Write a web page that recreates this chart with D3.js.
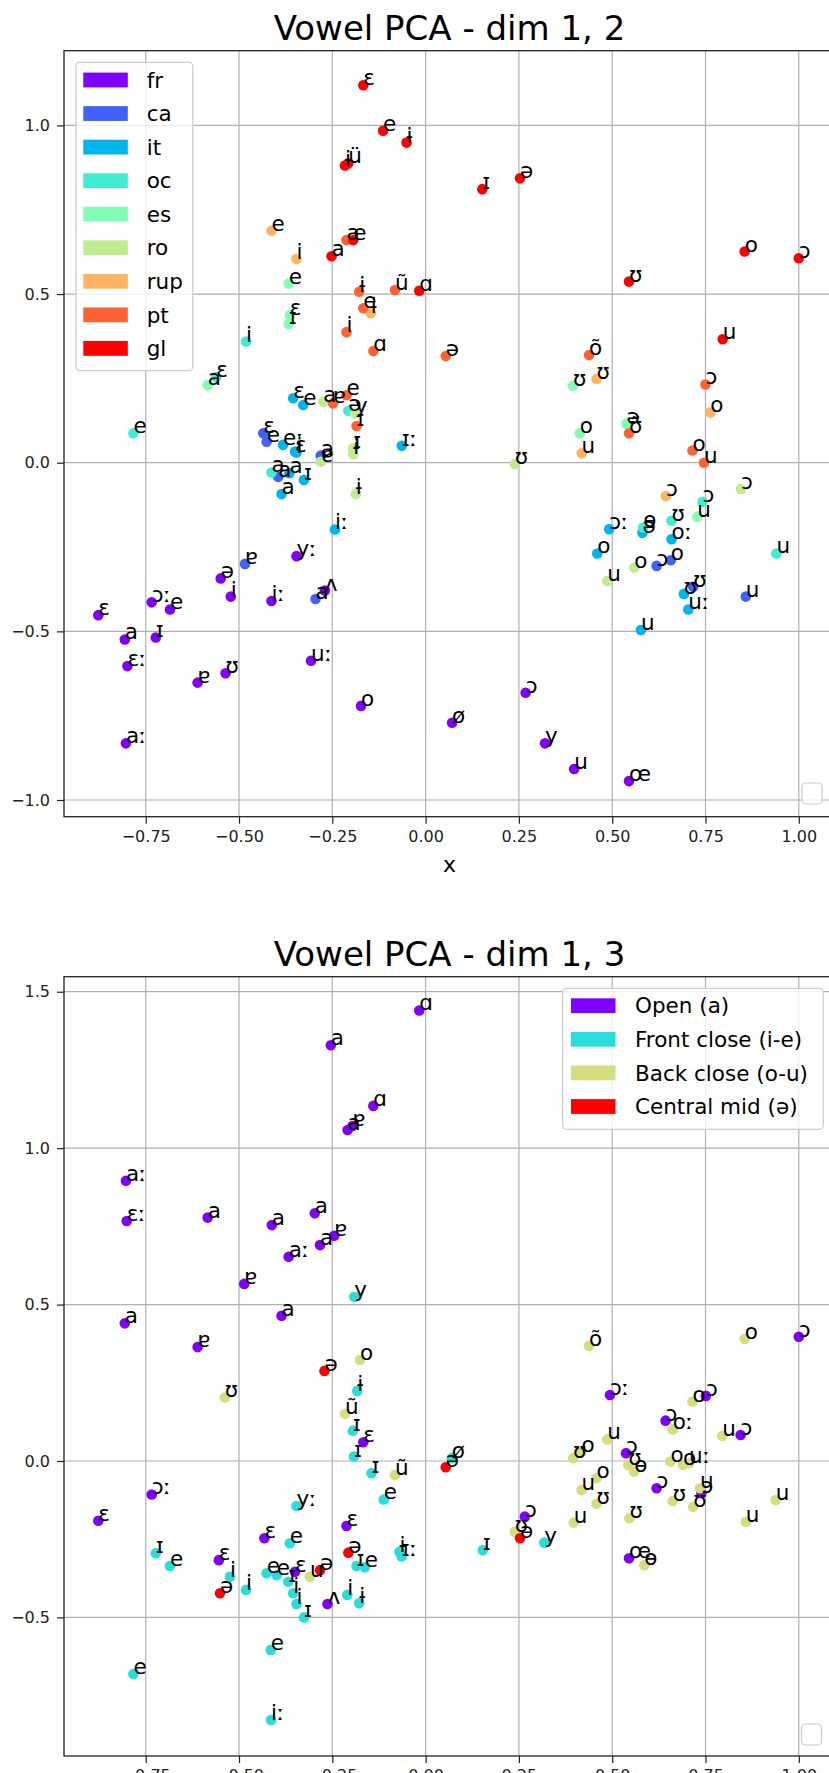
<!DOCTYPE html>
<html><head><meta charset="utf-8">
<script src="https://cdn.jsdelivr.net/npm/d3@7"></script>
<style>body{margin:0;background:#fff} text{font-family:"DejaVu Sans",sans-serif}</style>
</head><body><svg id="c" width="829" height="1773"></svg>
<script>
// ---------- data ----------
const languages = ["fr","ca","it","oc","es","ro","rup","pt","gl"];
const categories = ["Open (a)","Front close (i-e)","Back close (o-u)","Central mid (ə)"];
const xTicks = [-0.75,-0.5,-0.25,0,0.25,0.5,0.75,1.0];
const yTicksTop = [-1.0,-0.5,0,0.5,1.0];
const yTicksBottom = [-0.5,0,0.5,1.0,1.5];

// dim1, dim2 per language: [label, dim1, dim2]
const fr = [["ɛ",-0.877,-0.452],["a",-0.806,-0.524],["ɛː",-0.799,-0.603],["aː",-0.803,-0.832],["ɔː",-0.734,-0.414],["e",-0.685,-0.435],["ɪ",-0.723,-0.518],["ɐ",-0.611,-0.652],["ʊ",-0.536,-0.624],["ə",-0.549,-0.343],["i",-0.522,-0.397],["iː",-0.413,-0.410],["yː",-0.346,-0.277],["ʌ",-0.270,-0.379],["uː",-0.307,-0.587],["o",-0.173,-0.721],["ø",0.071,-0.771],["ɔ",0.268,-0.682],["y",0.320,-0.832],["u",0.398,-0.908],["œ",0.545,-0.944]];
const ca = [["ɐ",-0.484,-0.300],["a",-0.295,-0.404],["ɔ",0.619,-0.306],["o",0.657,-0.289],["u",0.858,-0.397],["ʊ",0.717,-0.368],["ɛ",-0.435,0.087],["e",-0.426,0.062],["a",-0.395,-0.042],["a",-0.281,0.021]];
const it = [["ɛ",-0.355,0.191],["e",-0.328,0.171],["ɪː",-0.064,0.050],["iː",-0.243,-0.198],["ɔː",0.492,-0.197],["oː",0.659,-0.227],["ə",0.581,-0.208],["o",0.460,-0.269],["ʊ",0.692,-0.389],["uː",0.704,-0.435],["u",0.577,-0.496],["eː",-0.382,0.053],["ɛ",-0.350,0.033],["a",-0.386,-0.093],["ɪ",-0.326,-0.051],["a",-0.365,-0.031],["i",-0.346,0.030]];
const oc = [["i",-0.481,0.359],["ɛ",-0.561,0.254],["e",-0.783,0.087],["a",-0.413,-0.029],["ɔ",0.742,-0.116],["ʊ",0.659,-0.172],["ɵ",0.583,-0.192],["u",0.940,-0.269],["ə",-0.207,0.154]];
const es = [["e",-0.367,0.531],["ɛ",-0.364,0.438],["ɪ",-0.367,0.411],["a",-0.584,0.230],["ʊ",0.395,0.228],["o",0.413,0.087],["ə",0.538,0.115],["u",0.728,-0.160]];
const ro = [["ʊ",0.239,-0.004],["ɔ",0.845,-0.078],["o",0.559,-0.311],["u",0.487,-0.351],["ɨ",-0.187,-0.093],["a",-0.274,0.181],["ɪ",-0.194,0.043],["ɨ",-0.194,0.025],["ɐ",-0.281,0.003],["y",-0.189,0.146]];
const rup = [["e",-0.413,0.688],["i",-0.346,0.604],["ɨ",-0.147,0.443],["ʊ",0.458,0.248],["u",0.418,0.028],["ɔ",0.644,-0.099],["o",0.763,0.149]];
const pt = [["a",-0.212,0.660],["ɨ",-0.178,0.507],["ũ",-0.082,0.512],["e",-0.167,0.458],["i",-0.212,0.387],["ɑ",-0.140,0.331],["ə",0.054,0.316],["õ",0.438,0.319],["ɔ",0.750,0.232],["ʊ̃",0.545,0.087],["o",0.715,0.036],["u",0.746,0.0],["ɐ",-0.248,0.176],["e",-0.212,0.200],["ɪ",-0.185,0.109]];
const gl = [["ɛ",-0.167,1.119],["e",-0.114,0.984],["ɨ",-0.051,0.949],["ɨ",-0.216,0.881],["ü",-0.207,0.888],["ɪ",0.152,0.811],["ə",0.253,0.843],["e",-0.194,0.660],["a",-0.252,0.612],["ɑ",-0.017,0.510],["ʊ",0.545,0.537],["o",0.855,0.626],["ɔ",1.000,0.606],["u",0.796,0.366]];
const langSeries = [fr, ca, it, oc, es, ro, rup, pt, gl];

// dim1, dim3 per vowel category: [label, dim1, dim3]
const openCat = [["a",-0.254,1.329],["ɑ",-0.140,1.135],["a",-0.209,1.058],["ɐ",-0.196,1.071],["ɑ",-0.017,1.440],["aː",-0.803,0.896],["ɛː",-0.801,0.767],["a",-0.584,0.778],["a",-0.412,0.754],["a",-0.297,0.792],["a",-0.283,0.690],["ɐ",-0.245,0.720],["aː",-0.367,0.653],["ɐ",-0.486,0.566],["a",-0.806,0.440],["a",-0.386,0.464],["ɐ",-0.611,0.364],["ɔ",1.000,0.397],["ɔː",-0.734,-0.107],["ɛ",-0.877,-0.191],["ɛ",-0.554,-0.317],["ɛ",-0.167,0.060],["ɛ",-0.432,-0.247],["ɛ",-0.212,-0.208],["ɛ",-0.350,-0.354],["ʌ",-0.263,-0.457],["ɔː",0.494,0.211],["ɔ",0.751,0.208],["ɔ",0.643,0.129],["ɔ",0.844,0.083],["ɔ",0.537,0.025],["ɔ",0.619,-0.087],["ɔ",0.739,-0.103],["ɔ",0.266,-0.178],["œ",0.545,-0.311]];
const frontCat = [["y",-0.191,0.525],["ɨ",-0.183,0.224],["ɪ",-0.195,0.097],["ɪ",-0.192,0.014],["ɪ",-0.145,-0.039],["e",-0.112,-0.123],["ɪː",-0.064,-0.305],["ɨ",-0.070,-0.290],["ɪ",0.153,-0.285],["y",0.318,-0.261],["ø",0.070,0.009],["ɪ",-0.723,-0.295],["e",-0.685,-0.336],["i",-0.524,-0.370],["e",-0.783,-0.681],["e",-0.415,-0.604],["iː",-0.414,-0.828],["ɪ",-0.326,-0.500],["yː",-0.346,-0.144],["e",-0.364,-0.263],["ɪ",-0.185,-0.336],["e",-0.163,-0.340],["e",-0.426,-0.359],["e",-0.399,-0.365],["i",-0.481,-0.412],["ɪ",-0.368,-0.386],["i",-0.355,-0.423],["i",-0.346,-0.457],["i",-0.210,-0.428],["ɨ",-0.178,-0.455]];
const backCat = [["o",-0.176,0.323],["ʊ",-0.538,0.203],["ũ",-0.216,0.151],["ũ",-0.082,-0.045],["õ",0.438,0.368],["o",0.855,0.390],["o",0.715,0.190],["oː",0.662,0.101],["u",0.795,0.080],["u",0.487,0.069],["o",0.418,0.030],["ʊ",0.395,0.009],["ʊ",0.543,-0.013],["ɵ",0.559,-0.034],["o",0.656,-0.002],["o",0.690,-0.013],["uː",0.706,-0.007],["o",0.458,-0.055],["u",0.418,-0.093],["ʊ",0.458,-0.137],["ʊ",0.662,-0.128],["u",0.735,-0.087],["ʊ",0.717,-0.146],["ʊ",0.546,-0.183],["u",0.397,-0.197],["u",0.938,-0.125],["u",0.858,-0.194],["ʊ",0.239,-0.226],["ɵ",0.586,-0.333],["u",-0.310,-0.370]];
const centralCat = [["ə",-0.271,0.288],["ə",0.054,-0.020],["ə",0.253,-0.247],["ə",-0.551,-0.423],["ə",-0.207,-0.293],["ə",-0.283,-0.349]];
const catSeries = [openCat, frontCat, backCat, centralCat];

// ---------- style helpers ----------
function rainbow(t){
  const r = Math.max(0, Math.min(1, Math.abs(2*t - 0.5)));
  const g = Math.sin(Math.PI*t);
  const b = Math.cos(Math.PI*t/2);
  return d3.rgb(r*255, g*255, b*255).formatHex();
}
const svg = d3.select("#c");
svg.append("rect").attr("width",829).attr("height",1773).attr("fill","#fff");

const X0 = 64, X1 = 835;
const xScale = d3.scaleLinear().domain([-0.969, 1.097]).range([X0, X1]);

function panel(cfg){
  const {top, bottom, yDomain, yTicks, title, series, colors, names, legendBox, emptyBox, xlabel} = cfg;
  const y = d3.scaleLinear().domain(yDomain).range([bottom, top]);
  const g = svg.append("g");
  // grid
  g.selectAll(null).data(xTicks).join("line")
    .attr("x1", d=>xScale(d)).attr("x2", d=>xScale(d)).attr("y1", top).attr("y2", bottom)
    .attr("stroke","#b0b0b0").attr("stroke-width",1.2);
  g.selectAll(null).data(yTicks).join("line")
    .attr("x1", X0).attr("x2", X1).attr("y1", d=>y(d)).attr("y2", d=>y(d))
    .attr("stroke","#b0b0b0").attr("stroke-width",1.2);
  // axes
  const ax = g.append("g").attr("transform",`translate(0,${bottom})`)
    .call(d3.axisBottom(xScale).tickValues(xTicks).tickFormat(d3.format(".2f")).tickSize(7).tickSizeOuter(0).tickPadding(7));
  const ay = g.append("g").attr("transform",`translate(${X0},0)`)
    .call(d3.axisLeft(y).tickValues(yTicks).tickFormat(d3.format(".1f")).tickSize(7).tickSizeOuter(0).tickPadding(7));
  [ax, ay].forEach(a=>{
    a.select(".domain").remove();
    a.selectAll("line").attr("stroke","#222").attr("stroke-width",1.2);
    a.selectAll("text").attr("font-size",16).attr("fill","#222").attr("font-family","DejaVu Sans");
  });
  // frame
  g.append("rect").attr("x",X0).attr("y",top).attr("width",X1-X0).attr("height",bottom-top)
    .attr("fill","none").attr("stroke","#222").attr("stroke-width",1.3);
  // points
  series.forEach((s,i)=>{
    g.selectAll(null).data(s).join("circle")
      .attr("cx", d=>xScale(d[1])).attr("cy", d=>y(d[2])).attr("r",5.3)
      .attr("fill", colors[i]);
  });
  series.forEach((s,i)=>{
    g.selectAll(null).data(s).join("text")
      .attr("x", d=>xScale(d[1])).attr("y", d=>y(d[2]))
      .attr("font-size",21.5).attr("fill","#000").text(d=>d[0]);
  });
  // title
  g.append("text").attr("x",(X0+X1)/2).attr("y",top-10.5).attr("text-anchor","middle")
    .attr("font-size",34).attr("fill","#000").text(title);
  if (xlabel) g.append("text").attr("x",(X0+X1)/2).attr("y",bottom+55).attr("text-anchor","middle")
    .attr("font-size",22).attr("fill","#000").text(xlabel);
  // legend
  const L = legendBox;
  const lg = g.append("g");
  lg.append("rect").attr("x",L.x).attr("y",L.y).attr("width",L.w).attr("height",L.h).attr("rx",4)
    .attr("fill","#fff").attr("fill-opacity",0.8).attr("stroke","#cccccc").attr("stroke-width",1.2);
  names.forEach((n,i)=>{
    const cy = L.firstRow + i*L.step;
    lg.append("rect").attr("x",L.hx).attr("y",cy-7.4).attr("width",44.5).attr("height",14.8).attr("fill",colors[i]);
    lg.append("text").attr("x",L.tx).attr("y",cy).attr("dy","0.36em").attr("font-size",21.5).attr("fill","#000").text(n);
  });
  // empty legend
  g.append("rect").attr("x",emptyBox.x).attr("y",emptyBox.y).attr("width",20).attr("height",21).attr("rx",4)
    .attr("fill","#fff").attr("fill-opacity",0.8).attr("stroke","#cccccc").attr("stroke-width",1.2);
}

panel({
  top: 50.7, bottom: 816.7, yDomain: [-1.0495, 1.2215], yTicks: yTicksTop,
  title: "Vowel PCA - dim 1, 2", series: langSeries,
  colors: languages.map((_,i)=>rainbow(i/(languages.length-1))), names: languages,
  legendBox: {x:76, y:62.3, w:116.7, h:308.4, hx:83.3, tx:146.7, firstRow:80, step:33.55},
  emptyBox: {x:802, y:783}, xlabel: "x"
});
panel({
  top: 976.7, bottom: 1756, yDomain: [-0.943, 1.548], yTicks: yTicksBottom,
  title: "Vowel PCA - dim 1, 3", series: catSeries,
  colors: categories.map((_,i)=>rainbow(i/(categories.length-1))), names: categories,
  legendBox: {x:562.7, y:988.3, w:260.6, h:141, hx:571, tx:635, firstRow:1005.7, step:33.6},
  emptyBox: {x:801.5, y:1724}, xlabel: null
});
</script></body></html>
